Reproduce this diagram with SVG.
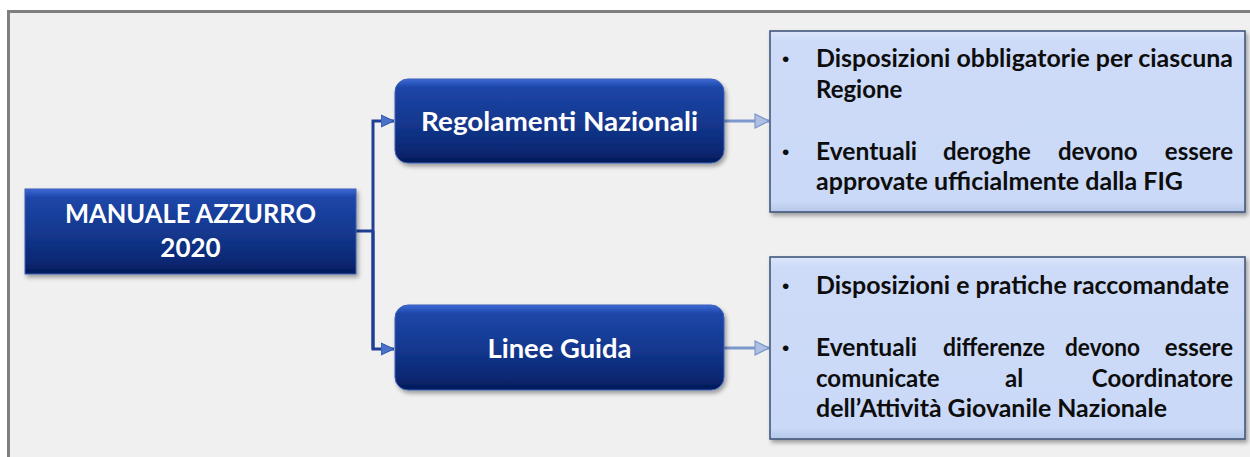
<svg xmlns="http://www.w3.org/2000/svg" width="1250" height="457" viewBox="0 0 1250 457">
<defs>
<linearGradient id="gDark" x1="0" y1="0" x2="0" y2="1">
<stop offset="0" stop-color="#3d6ad6"/>
<stop offset="0.1" stop-color="#1d46a8"/>
<stop offset="0.5" stop-color="#14388f"/>
<stop offset="0.85" stop-color="#0a2874"/>
<stop offset="1" stop-color="#041a58"/>
</linearGradient>
<linearGradient id="gLight" x1="0" y1="0" x2="0" y2="1">
<stop offset="0" stop-color="#dce6fb"/>
<stop offset="0.06" stop-color="#cddbf8"/>
<stop offset="0.94" stop-color="#cad9f7"/>
<stop offset="1" stop-color="#b5c6e8"/>
</linearGradient>
<filter id="sh" x="-10%" y="-10%" width="125%" height="130%">
<feDropShadow dx="2" dy="3" stdDeviation="2" flood-color="#000" flood-opacity="0.35"/>
</filter>
<marker id="aDark" markerUnits="userSpaceOnUse" markerWidth="14" markerHeight="14" refX="13" refY="7" orient="auto">
<path d="M0,1 L13,7 L0,13 Z" fill="#4a72c8" stroke="#2f55ad" stroke-width="1"/>
</marker>
<marker id="aLight" markerUnits="userSpaceOnUse" markerWidth="16" markerHeight="16" refX="15" refY="8" orient="auto">
<path d="M1,1 L15,8 L1,15 Z" fill="#aebfe2" stroke="#7d98cc" stroke-width="1.2"/>
</marker>
<style>
.dark{fill:url(#gDark);stroke:#3b5fb8;stroke-width:1;filter:url(#sh)}
.light{fill:url(#gLight);stroke:#43577c;stroke-width:1.6;filter:url(#sh)}
.wt{font-family:Lato,"Open Sans","Liberation Sans",sans-serif;font-weight:bold;fill:#ffffff;text-anchor:middle}
.bt{font-family:Lato,"Open Sans","Liberation Sans",sans-serif;font-weight:bold;fill:#0d0d0d;font-size:24px}
.bu{font-family:"Liberation Sans",sans-serif;fill:#0d0d0d;font-size:21px}
.cd{fill:none;stroke:#1f3f94;stroke-width:3}
.cl{fill:none;stroke:#7d98cc;stroke-width:3}
</style>
</defs>
<rect x="0" y="0" width="1250" height="457" fill="#ffffff"/>
<rect x="10" y="13" width="1240" height="444" fill="#f0f0f0"/>
<path d="M8.5,457 L8.5,11.5 L1250,11.5" fill="none" stroke="#7f7f7f" stroke-width="3"/>

<g id="connectors">
<path class="cd" d="M356,231 L373,231"/>
<path class="cd" d="M373,349 L373,121 L394,121" marker-end="url(#aDark)"/>
<path class="cd" d="M373,231 L373,349 L394,349" marker-end="url(#aDark)"/>
<path class="cl" d="M724,121 L769,121" marker-end="url(#aLight)"/>
<path class="cl" d="M724,348 L769,348" marker-end="url(#aLight)"/>
</g>

<g id="manuale">
<rect class="dark" x="25" y="189" width="331" height="85"/>
<text class="wt" x="190.5" y="223" font-size="26" textLength="251" lengthAdjust="spacingAndGlyphs">MANUALE AZZURRO</text>
<text class="wt" x="190.5" y="257" font-size="26">2020</text>
</g>

<g id="regolamenti">
<rect class="dark" x="395" y="79" width="329" height="84" rx="13"/>
<text class="wt" x="559.5" y="131" font-size="26" textLength="277" lengthAdjust="spacingAndGlyphs">Regolamenti Nazionali</text>
</g>

<g id="linee">
<rect class="dark" x="395" y="305" width="329" height="85" rx="13"/>
<text class="wt" x="559.5" y="358" font-size="26" textLength="144" lengthAdjust="spacingAndGlyphs">Linee Guida</text>
</g>

<g id="box1">
<rect class="light" x="770" y="31" width="475" height="181"/>
<text class="bu" x="782" y="66">•</text>
<text class="bt" x="816" y="67" textLength="417" lengthAdjust="spacingAndGlyphs">Disposizioni obbligatorie per ciascuna</text>
<text class="bt" x="816" y="98">Regione</text>
<text class="bu" x="782" y="159">•</text>
<text class="bt" x="816" y="160" textLength="101" lengthAdjust="spacingAndGlyphs">Eventuali</text>
<text class="bt" x="943" y="160">deroghe</text>
<text class="bt" x="1058" y="160">devono</text>
<text class="bt" x="1233" y="160" text-anchor="end">essere</text>
<text class="bt" x="816" y="190" textLength="367" lengthAdjust="spacingAndGlyphs">approvate ufficialmente dalla FIG</text>
</g>

<g id="box2">
<rect class="light" x="770" y="257" width="475" height="182"/>
<text class="bu" x="782" y="293">•</text>
<text class="bt" x="816" y="294" textLength="413" lengthAdjust="spacingAndGlyphs">Disposizioni e pratiche raccomandate</text>
<text class="bu" x="782" y="355">•</text>
<text class="bt" x="816" y="356" textLength="101" lengthAdjust="spacingAndGlyphs">Eventuali</text>
<text class="bt" x="943" y="356" textLength="102" lengthAdjust="spacingAndGlyphs">differenze</text>
<text class="bt" x="1065" y="356" textLength="75" lengthAdjust="spacingAndGlyphs">devono</text>
<text class="bt" x="1233" y="356" text-anchor="end">essere</text>
<text class="bt" x="816" y="387">comunicate</text>
<text class="bt" x="1005" y="387">al</text>
<text class="bt" x="1233" y="387" text-anchor="end">Coordinatore</text>
<text class="bt" x="816" y="417" textLength="351" lengthAdjust="spacingAndGlyphs">dell’Attività Giovanile Nazionale</text>
</g>
</svg>
